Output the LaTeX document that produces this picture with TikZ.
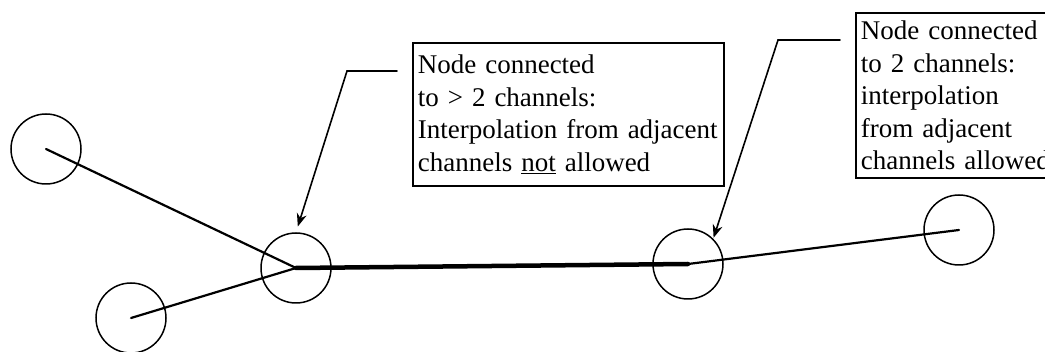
\documentclass[tikz,border=0pt]{standalone}
\usepackage{fontspec}
\setmainfont{Liberation Serif}
\usetikzlibrary{arrows.meta}
\tikzset{
    hub/.style={draw, circle, line width=1.5pt, minimum size=70pt, inner sep=0pt},
    chan/.style={line width=2.2pt},
    trunk/.style={line width=4.5pt},
    note/.style={draw, line width=1.6pt, anchor=north west, align=left, inner sep=5pt,
        font=\fontsize{27}{32.5}\selectfont},
    lead/.style={line width=1.6pt, -{Stealth[length=13pt,width=10pt]}}
}
\begin{document}
\begin{tikzpicture}[x=1pt, y={(0pt,-1pt)}, line cap=round]
        \useasboundingbox (0,0) rectangle (1045,352);
        \clip (0,0) rectangle (1045,352);
        \foreach\nm/\x/\y in {n1/46/149, n2/131/318, n3/296/268, n4/688/264, n5/959/230}
            \node[hub] (\nm) at (\x,\y) {};
        % channels
        \foreach\a in {n1,n2}
            \draw[chan] (\a.center) -- (n3.center);
        \draw[trunk] (n3.center) -- (n4.center);
        \draw[chan]  (n4.center) -- (n5.center);
        % notes
        \node[note, text width=301pt, minimum height=143pt] (many) at (412,42)
            {Node connected\\ to > 2 channels:\\ Interpolation from adjacent\\ channels \underline{not} allowed};
        \node[note, text width=200pt, minimum height=165pt] (two) at (855,12)
            {Node connected\\ to 2 channels:\\ interpolation\\ from adjacent\\ channels allowed};
        \coordinate (e1) at (397,71);
        \coordinate (k1) at (347,71);
        \coordinate (e2) at (840,40);
        \coordinate (k2) at (778,40);
        \draw[lead, shorten >=6pt] (e1) -- (k1) -- (n3.north);
        \draw[lead, shorten >=1pt] (e2) -- (k2) -- (n4.north east);
\end{tikzpicture}
\end{document}
